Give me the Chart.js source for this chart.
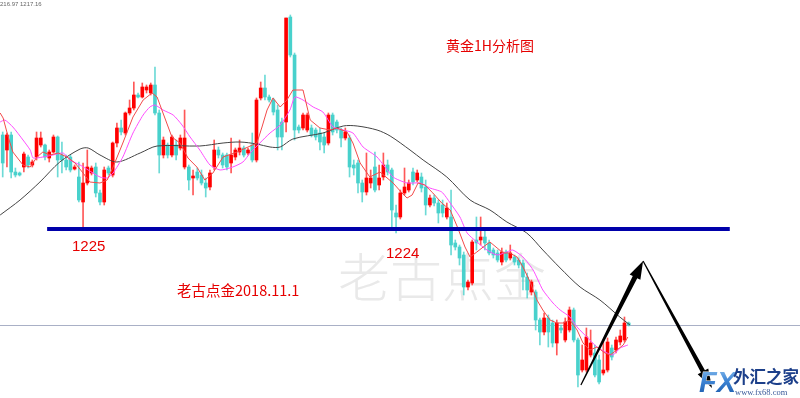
<!DOCTYPE html>
<html><head><meta charset="utf-8">
<script src="https://cdn.jsdelivr.net/npm/chart.js@4.4.1/dist/chart.umd.min.js"></script>
<style>html,body{margin:0;padding:0;background:#fff;overflow:hidden}canvas{display:block}</style>
</head><body>
<canvas id="c" width="800" height="398"></canvas>
<script>
// ---- Candle data (XAUUSD H1), index 0..148 ----
const openP = [
1233.5,1232.0,1233.5,1229.8,1229.7,1230.3,1231.3,1230.5,1231.3,1232.5,
1232.5,1231.2,1231.8,1233.3,1231.5,1231.0,1231.3,1230.1,1229.3,1226.8,
1228.7,1229.7,1230.3,1227.7,1226.8,1230.2,1229.5,1232.7,1234.2,1233.7,
1235.7,1236.2,1237.5,1237.3,1238.0,1237.7,1238.5,1235.7,1231.5,1232.5,
1231.5,1232.5,1232.2,1230.3,1230.3,1229.2,1229.8,1229.5,1228.7,1228.3,
1230.3,1232.0,1231.5,1231.5,1230.7,1231.3,1231.8,1232.2,1231.7,1232.5,
1231.0,1237.2,1238.2,1237.3,1237.0,1236.0,1234.8,1234.8,1245.3,1241.5,
1234.3,1234.2,1234.0,1234.2,1234.0,1233.7,1233.3,1232.7,1235.5,1234.8,
1234.0,1233.2,1233.2,1230.5,1230.7,1228.7,1227.8,1228.7,1230.3,1228.5,
1229.3,1230.5,1230.0,1225.7,1225.3,1227.7,1228.0,1229.8,1229.0,1229.3,
1228.3,1226.5,1227.2,1226.7,1226.5,1225.3,1225.3,1222.7,1222.3,1221.5,
1218.3,1218.7,1223.0,1223.0,1223.3,1222.7,1222.0,1221.7,1220.8,1221.8,
1221.2,1221.3,1221.0,1220.7,1219.3,1217.8,1217.8,1215.0,1213.8,1215.2,
1214.7,1212.7,1214.2,1213.0,1214.0,1216.0,1213.0,1210.0,1210.0,1211.5,
1211.7,1211.0,1209.7,1210.0,1212.2,1212.0,1212.8,1213.0,1214.7];
const highP = [
1233.8,1233.7,1233.8,1230.2,1229.8,1231.8,1231.5,1231.0,1233.8,1233.8,
1232.6,1232.0,1233.5,1233.4,1232.8,1231.5,1231.5,1230.5,1230.8,1230.7,
1232.0,1230.4,1230.7,1228.0,1230.3,1230.4,1232.8,1234.7,1235.0,1235.8,
1237.0,1238.8,1237.7,1238.7,1238.5,1238.7,1240.3,1236.0,1233.3,1232.7,
1233.5,1233.0,1233.5,1236.0,1230.5,1230.0,1230.2,1230.0,1229.2,1230.0,
1233.0,1232.3,1231.7,1231.7,1233.2,1232.2,1233.0,1232.4,1232.2,1233.7,
1237.2,1238.8,1239.5,1237.5,1237.2,1236.5,1235.2,1245.2,1245.5,1241.7,
1234.5,1235.7,1235.7,1234.5,1234.2,1234.2,1233.7,1235.7,1235.7,1235.0,
1234.2,1234.2,1233.5,1231.0,1231.0,1229.0,1231.7,1230.0,1231.8,1230.5,
1231.7,1231.0,1230.2,1226.5,1228.0,1230.2,1229.0,1230.2,1230.0,1229.7,
1229.0,1227.5,1227.5,1227.0,1227.0,1226.7,1228.0,1223.0,1222.5,1221.8,
1219.0,1223.0,1225.3,1225.3,1224.0,1223.0,1222.2,1222.0,1222.2,1222.0,
1222.5,1221.5,1221.2,1221.0,1219.7,1219.0,1218.0,1215.2,1215.7,1215.5,
1215.0,1215.0,1214.5,1215.2,1216.3,1216.2,1213.2,1212.5,1214.2,1214.0,
1212.5,1211.5,1213.0,1213.2,1212.5,1213.3,1214.0,1215.3,1214.8];
const lowP = [
1229.3,1230.3,1229.2,1229.3,1229.4,1229.8,1230.2,1230.3,1231.0,1232.3,
1231.0,1230.8,1231.7,1229.3,1229.7,1230.0,1229.8,1230.0,1226.8,1224.3,
1228.5,1229.5,1227.3,1226.5,1226.5,1229.5,1229.3,1232.3,1233.5,1233.5,
1235.5,1236.0,1237.2,1237.2,1237.7,1237.5,1235.5,1229.7,1231.2,1231.2,
1231.3,1231.0,1232.0,1230.1,1228.0,1227.5,1229.0,1228.5,1227.3,1228.0,
1230.0,1231.2,1230.2,1230.0,1229.7,1231.0,1231.5,1231.3,1231.5,1230.8,
1230.8,1237.0,1237.0,1236.8,1235.5,1232.0,1232.0,1233.8,1241.3,1233.0,
1233.7,1234.0,1233.8,1233.3,1233.0,1232.0,1231.7,1232.5,1233.5,1233.7,
1232.3,1233.0,1229.3,1229.5,1227.7,1226.8,1227.5,1228.2,1227.8,1228.0,
1229.0,1229.5,1224.3,1223.7,1225.1,1227.5,1227.8,1228.5,1228.8,1227.8,
1225.5,1226.3,1226.4,1224.7,1225.3,1225.1,1221.5,1222.0,1220.5,1217.5,
1218.0,1218.5,1222.0,1222.5,1222.0,1221.5,1221.2,1220.8,1220.5,1220.8,
1221.0,1220.5,1220.2,1218.0,1217.2,1217.5,1214.0,1212.5,1213.5,1212.3,
1212.3,1211.5,1213.7,1212.8,1213.8,1212.8,1208.3,1209.8,1209.8,1211.3,
1209.3,1208.6,1209.5,1209.8,1211.0,1211.7,1212.5,1212.8,1214.4];
const closeP = [
1230.7,1233.5,1229.8,1229.5,1229.5,1231.6,1230.5,1230.8,1233.2,1233.2,
1231.3,1231.8,1233.3,1231.0,1231.0,1230.3,1230.0,1230.3,1227.0,1228.7,
1230.3,1230.2,1227.7,1226.8,1230.0,1229.7,1232.7,1234.2,1233.8,1235.7,
1236.2,1237.5,1237.3,1238.3,1238.3,1238.5,1235.7,1231.5,1233.0,1231.5,
1233.3,1231.5,1233.2,1233.2,1229.0,1229.4,1229.2,1228.7,1228.2,1229.7,
1232.0,1231.5,1230.5,1230.3,1231.5,1232.0,1232.2,1231.5,1232.0,1231.0,
1237.0,1238.2,1237.3,1237.0,1235.8,1233.3,1233.3,1245.2,1241.5,1234.0,
1234.0,1235.5,1235.5,1233.5,1233.3,1232.8,1232.5,1235.5,1233.8,1234.0,
1233.2,1233.8,1230.3,1230.2,1228.7,1227.8,1229.2,1229.2,1228.0,1229.2,
1230.5,1229.8,1226.0,1225.3,1227.7,1228.3,1228.7,1228.8,1229.7,1228.2,
1226.5,1227.2,1226.7,1225.7,1225.7,1226.2,1222.5,1222.3,1221.2,1218.3,
1218.8,1222.8,1222.7,1223.3,1222.7,1221.7,1221.5,1221.0,1221.8,1221.0,
1221.7,1220.8,1220.5,1219.3,1218.0,1218.8,1215.0,1213.8,1215.2,1213.8,
1212.7,1214.7,1214.0,1214.8,1216.0,1213.0,1209.5,1211.0,1213.3,1212.7,
1209.5,1208.8,1210.0,1212.8,1211.3,1213.0,1213.4,1214.7,1214.5];

// ---- Moving averages: [candle index, price] ----
const maFast = [[-0.6,1235.7],[0.1,1235.2],[1.3,1233.3],[2.4,1231.8],[4.8,1230.5],[6.5,1230.3],[8.1,1231.3],[9.5,1231.8],[11.2,1231.5],[13.1,1231.7],[15.2,1231.3],[17.1,1230.7],[19.0,1229.7],[20.6,1228.8],[23.0,1228.7],[24.7,1229.0],[26.1,1230.3],[28.4,1232.7],[30.8,1235.3],[33.2,1237.0],[35.3,1237.7],[36.5,1237.3],[37.9,1235.7],[40.0,1233.3],[41.9,1232.7],[43.8,1231.2],[45.9,1230.3],[47.8,1229.0],[49.7,1229.7],[52.1,1231.3],[55.4,1231.8],[58.0,1232.3],[60.1,1232.7],[61.3,1234.3],[62.5,1236.0],[63.9,1237.2],[65.6,1236.3],[67.2,1237.0],[68.6,1238.0],[71.0,1238.0],[72.7,1235.0],[75.0,1234.2],[77.4,1234.0],[79.0,1234.2],[81.4,1233.8],[82.8,1232.7],[84.5,1230.7],[86.8,1229.3],[89.2,1229.8],[92.3,1228.7],[94.4,1227.7],[95.6,1227.2],[96.8,1227.5],[98.2,1228.7],[99.8,1228.5],[101.7,1227.7],[103.8,1226.7],[105.8,1226.0],[107.6,1224.2],[109.3,1222.3],[110.5,1221.3],[112.1,1221.8],[113.6,1222.3],[115.2,1222.8],[116.9,1222.2],[118.3,1221.7],[119.9,1221.7],[121.6,1221.3],[123.0,1220.3],[124.7,1218.8],[126.3,1217.0],[127.7,1216.0],[129.4,1215.0],[131.0,1214.7],[132.5,1214.7],[134.1,1215.0],[135.8,1214.0],[137.2,1212.7],[138.8,1212.0],[140.5,1212.3],[142.4,1211.7],[143.6,1211.5],[145.2,1212.0],[146.7,1212.5],[147.8,1213.3]];
const maMid = [[-0.6,1234.8],[0.5,1235.0],[2.4,1234.3],[4.8,1233.0],[6.5,1232.0],[7.2,1231.2],[9.5,1231.3],[11.9,1231.5],[14.3,1231.7],[15.9,1231.0],[18.3,1230.5],[20.2,1230.0],[23.0,1229.3],[24.7,1229.2],[26.1,1229.7],[28.4,1231.3],[30.8,1233.7],[33.2,1235.5],[34.8,1236.3],[36.0,1236.5],[37.9,1236.0],[40.3,1235.5],[42.4,1234.5],[44.3,1233.3],[46.6,1232.0],[49.0,1230.5],[51.4,1230.0],[54.4,1230.3],[56.8,1230.8],[58.5,1231.7],[60.8,1232.7],[63.2,1233.7],[65.6,1234.5],[67.9,1236.0],[69.1,1237.3],[71.0,1237.0],[73.4,1236.3],[75.7,1235.8],[78.1,1234.3],[80.5,1234.0],[82.8,1233.7],[85.2,1232.3],[88.5,1231.3],[92.3,1229.3],[95.6,1228.7],[98.7,1228.7],[101.0,1228.2],[103.8,1227.8],[105.8,1226.7],[108.1,1225.3],[109.8,1223.7],[112.1,1222.8],[114.5,1222.0],[116.9,1221.5],[119.2,1221.8],[120.6,1222.0],[123.0,1221.3],[125.4,1220.0],[127.7,1218.0],[130.1,1216.7],[131.8,1216.0],[134.1,1215.3],[135.8,1214.3],[138.1,1213.3],[140.5,1212.3],[142.9,1211.7],[144.3,1211.5],[146.0,1212.2],[147.8,1212.5]];
const maSlow = [[-0.6,1225.5],[4.1,1227.0],[8.8,1228.8],[13.5,1230.8],[18.3,1232.1],[20.2,1232.2],[23.0,1231.5],[27.0,1230.8],[32.5,1231.7],[36.5,1232.4],[46.6,1232.4],[52.1,1232.7],[56.1,1232.8],[60.1,1232.6],[63.2,1232.3],[65.6,1232.3],[68.6,1233.1],[75.7,1233.7],[80.5,1234.4],[83.8,1234.4],[88.5,1234.0],[91.6,1233.4],[96.3,1232.0],[99.4,1231.0],[105.0,1229.3],[110.5,1227.0],[115.2,1226.0],[119.2,1224.8],[123.9,1223.7],[127.7,1222.0],[131.8,1220.2],[136.5,1218.3],[141.2,1217.0],[145.9,1215.3],[148.3,1214.5]];

// ---- Levels and annotation anchors ----
const supportLevel = 1224.1;      // blue line
const supportFrom = 10.5, supportTo = 171.9;
const lastPrice = 1214.45;        // grey current-price line
const arrowStart = [136.7, 1208.5];
const arrowPeak  = [151.4, 1220.9];
const arrowEnd   = [167.7, 1208.2];
const labelLeft = '1225', labelMid = '1224';
const title = '黄金1H分析图', author = '老古点金2018.11.1', watermark = '老古点金';
const headerText = '216.97 1217.16';

const idx = openP.map((_, i) => i);
const up = idx.map(i => closeP[i] >= openP[i]);
const RED = '#ff0000', CYAN = '#48d1cc';
const pts = a => a.map(p => ({x: p[0], y: p[1]}));

function drawArrow(c, x0, y0, x1, y1, w0, w1, L, hw) {
  const dx = x1 - x0, dy = y1 - y0, len = Math.hypot(dx, dy);
  const ux = dx / len, uy = dy / len, nx = -uy, ny = ux;
  const bx = x1 - ux * L, by = y1 - uy * L;
  c.beginPath();
  c.moveTo(x0 + nx * w0 / 2, y0 + ny * w0 / 2);
  c.lineTo(bx + nx * w1 / 2, by + ny * w1 / 2);
  c.lineTo(bx + nx * hw, by + ny * hw);
  c.lineTo(x1, y1);
  c.lineTo(bx - nx * hw, by - ny * hw);
  c.lineTo(bx - nx * w1 / 2, by - ny * w1 / 2);
  c.lineTo(x0 - nx * w0 / 2, y0 - ny * w0 / 2);
  c.closePath();
  c.fill();
}

const overlay = {
  id: 'overlay',
  beforeDatasetsDraw(chart) {
    const c = chart.ctx;
    c.save();
    c.fillStyle = '#e9e9e9';
    c.font = '300 52px "Noto Sans CJK SC"';
    c.textBaseline = 'middle';
    c.fillText(watermark, 338, 277);
    c.restore();
  },
  afterDatasetsDraw(chart) {
    const c = chart.ctx, xs = chart.scales.x, ys = chart.scales.y;
    c.save();
    // header
    c.fillStyle = '#666';
    c.font = '6px "Liberation Sans"';
    c.textBaseline = 'top';
    c.fillText(headerText, 0, 1);
    // red texts
    c.textBaseline = 'middle';
    c.fillStyle = '#e60000';
    c.font = '14px "Noto Sans CJK SC"';
    c.fillText(title, 446, 46);
    c.font = '15px "Liberation Sans"';
    c.fillText(labelLeft, 72, 247);
    c.fillText(labelMid, 386, 254);
    c.font = '14.5px "Noto Sans CJK SC"';
    c.fillText(author, 177, 290);
    // arrows
    c.fillStyle = '#000';
    const ax0 = xs.getPixelForValue(arrowStart[0]), ay0 = ys.getPixelForValue(arrowStart[1]);
    const ax1 = xs.getPixelForValue(arrowPeak[0]),  ay1 = ys.getPixelForValue(arrowPeak[1]);
    const ax2 = xs.getPixelForValue(arrowEnd[0]),   ay2 = ys.getPixelForValue(arrowEnd[1]);
    drawArrow(c, ax0, ay0, ax1, ay1, 1.2, 5, 18, 6);
    drawArrow(c, ax1, ay1, ax2, ay2, 1.2, 4.5, 19, 6);
    // logo (drawn over the arrow tip)
    const g = c.createLinearGradient(0, 367, 0, 394);
    g.addColorStop(0, '#8cc0ee'); g.addColorStop(0.5, '#3f86d6'); g.addColorStop(1, '#1f5fb0');
    c.fillStyle = g;
    c.strokeStyle = 'rgba(255,255,255,0.9)';
    c.lineWidth = 1;
    c.font = 'italic bold 29px "Liberation Sans"';
    c.textBaseline = 'alphabetic';
    c.strokeText('FX', 699, 392);
    c.fillText('FX', 699, 392);
    c.fillStyle = '#1c3f8a';
    c.font = 'bold 16.5px "Noto Sans CJK SC"';
    c.textBaseline = 'middle';
    c.fillText('外汇之家', 733, 377);
    c.fillStyle = '#3a5a9a';
    c.font = '8.5px "Liberation Serif"';
    c.fillText('www.fx68.com', 735, 393);
    c.restore();
  }
};

new Chart(document.getElementById('c'), {
  type: 'bar',
  data: {
    datasets: [
      {type: 'line', data: [{x: supportFrom, y: supportLevel}, {x: supportTo, y: supportLevel}],
       borderColor: '#0000aa', borderWidth: 4, pointRadius: 0, order: 0},
      {type: 'line', data: pts(maFast), borderColor: '#f24a4a', borderWidth: 1, pointRadius: 0, tension: 0, order: 1},
      {type: 'line', data: pts(maMid), borderColor: '#ff4dff', borderWidth: 1, pointRadius: 0, tension: 0.2, order: 2},
      {type: 'line', data: pts(maSlow), borderColor: '#444444', borderWidth: 1, pointRadius: 0, tension: 0.3, order: 3},
      {type: 'bar', data: idx.map(i => ({x: i, y: [openP[i], closeP[i]]})),
       backgroundColor: idx.map(i => up[i] ? RED : CYAN), barThickness: 3, grouped: false,
       borderWidth: 0, minBarLength: 1, order: 5},
      {type: 'bar', data: idx.map(i => ({x: i, y: [lowP[i], highP[i]]})),
       backgroundColor: idx.map(i => up[i] ? 'rgba(255,70,70,0.9)' : 'rgba(72,209,204,0.8)'),
       barThickness: 1, grouped: false, borderWidth: 0, order: 6},
      {type: 'line', data: [{x: -2, y: lastPrice}, {x: 192, y: lastPrice}],
       borderColor: '#a9b0c6', borderWidth: 1, pointRadius: 0, order: 8}
    ]
  },
  options: {
    responsive: false, animation: false, events: [],
    layout: {padding: 0},
    plugins: {legend: {display: false}, tooltip: {enabled: false}},
    scales: {
      x: {type: 'linear', min: -0.64, max: 188.5, offset: false, display: false},
      y: {type: 'linear', min: 1207.2, max: 1247.0, beginAtZero: false, display: false}
    }
  },
  plugins: [overlay]
});
</script>
</body></html>
